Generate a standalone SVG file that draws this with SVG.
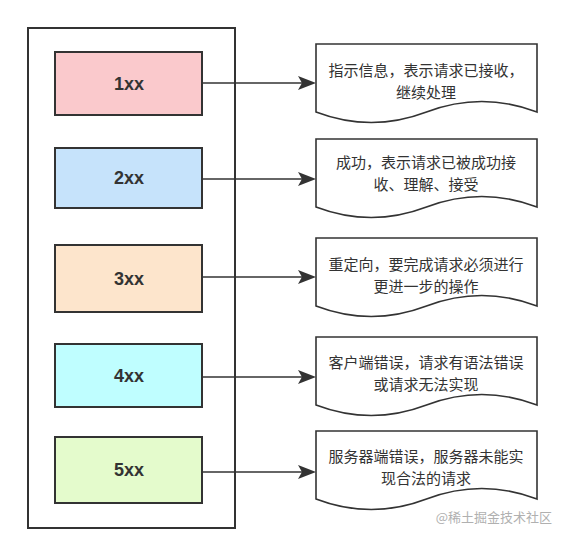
<svg xmlns="http://www.w3.org/2000/svg" width="567" height="539" viewBox="0 0 567 539">
<style>
.box{stroke:#333;stroke-width:2}
.code{font-family:"Liberation Sans",Arial,sans-serif;font-weight:bold;font-size:18px;fill:#333;text-anchor:middle}
.doc{fill:#fff;stroke:#333;stroke-width:1.6}
.desc{font-family:"Noto Sans CJK SC","Noto Sans",sans-serif;font-size:15px;fill:#333;text-anchor:middle}
.conn{stroke:#333;stroke-width:1.6;fill:none}
.head{fill:#333}
</style>
<rect width="567" height="539" fill="#fff"/>
<g id="container"><rect x="28" y="28" width="207" height="500" fill="none" stroke="#333" stroke-width="2"/></g>
<g id="connectors">
<line class="conn" x1="202" y1="83" x2="302" y2="83"/><path class="head" d="M316,83 L298,76 L302,83 L298,90 Z"/>
<line class="conn" x1="202" y1="179" x2="302" y2="179"/><path class="head" d="M316,179 L298,172 L302,179 L298,186 Z"/>
<line class="conn" x1="202" y1="277" x2="302" y2="277"/><path class="head" d="M316,277 L298,270 L302,277 L298,284 Z"/>
<line class="conn" x1="202" y1="377" x2="302" y2="377"/><path class="head" d="M316,377 L298,370 L302,377 L298,384 Z"/>
<line class="conn" x1="202" y1="472" x2="302" y2="472"/><path class="head" d="M316,472 L298,465 L302,472 L298,479 Z"/>
</g>
<g id="n1xx"><rect class="box" x="55" y="52" width="147" height="63" fill="#fac9cc"/><text class="code" x="129" y="90">1xx</text></g>
<g id="n2xx"><rect class="box" x="55" y="148" width="147" height="60" fill="#c6e3fb"/><text class="code" x="129" y="184">2xx</text></g>
<g id="n3xx"><rect class="box" x="55" y="245" width="147" height="67" fill="#fde5cc"/><text class="code" x="129" y="285">3xx</text></g>
<g id="n4xx"><rect class="box" x="55" y="344" width="147" height="63" fill="#bffeff" stroke="#111"/><text class="code" x="129" y="382">4xx</text></g>
<g id="n5xx"><rect class="box" x="55" y="437" width="147" height="66" fill="#e4fbcc"/><text class="code" x="129" y="476">5xx</text></g>
<g id="d1"><path class="doc" d="M316,44 H537 V112 Q481.75,91 426.5,112 Q371.25,133 316,112 Z"/><text class="desc" x="426" y="76">指示信息，表示请求已接收，</text><text class="desc" x="426" y="98">继续处理</text></g>
<g id="d2"><path class="doc" d="M316,139 H537 V207 Q481.75,186 426.5,207 Q371.25,228 316,207 Z"/><text class="desc" x="426" y="168">成功，表示请求已被成功接</text><text class="desc" x="426" y="190">收、理解、接受</text></g>
<g id="d3"><path class="doc" d="M316,238 H537 V306 Q481.75,285 426.5,306 Q371.25,327 316,306 Z"/><text class="desc" x="426" y="270">重定向，要完成请求必须进行</text><text class="desc" x="426" y="292">更进一步的操作</text></g>
<g id="d4"><path class="doc" d="M316,337 H537 V405 Q481.75,384 426.5,405 Q371.25,426 316,405 Z"/><text class="desc" x="426" y="368">客户端错误，请求有语法错误</text><text class="desc" x="426" y="390">或请求无法实现</text></g>
<g id="d5"><path class="doc" d="M316,431 H537 V499 Q481.75,478 426.5,499 Q371.25,520 316,499 Z"/><text class="desc" x="426" y="462">服务器端错误，服务器未能实</text><text class="desc" x="426" y="484">现合法的请求</text></g>
<text x="552" y="522" font-family="Noto Sans CJK SC,sans-serif" font-size="13" fill="#b0b0b0" text-anchor="end">@稀土掘金技术社区</text>
</svg>
